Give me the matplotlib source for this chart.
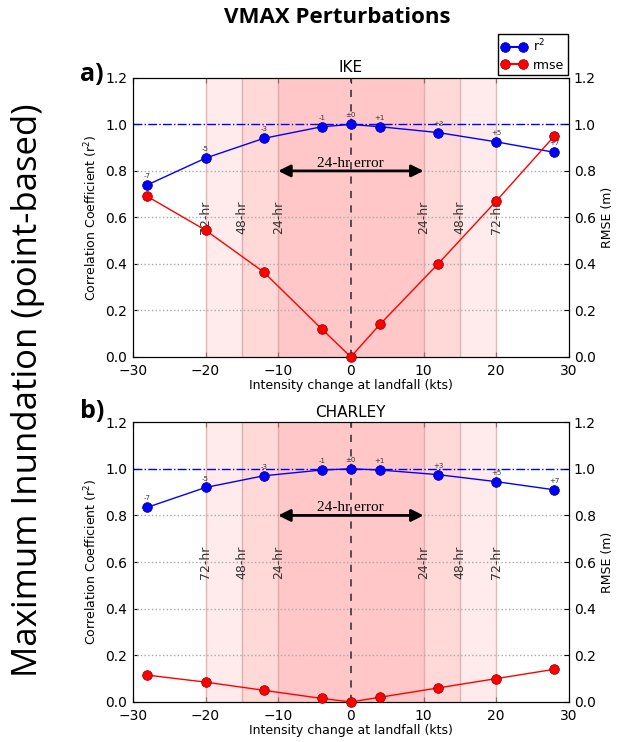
import matplotlib.pyplot as plt
from matplotlib.lines import Line2D

# intensity perturbation (kts) and labels
dv = [-28, -20, -12, -4, 0, 4, 12, 20, 28]
pert_labels = ['-7', '-5', '-3', '-1', '\u00b10', '+1', '+3', '+5', '+7']

ike_r2 = [0.74, 0.855, 0.94, 0.99, 1.0, 0.99, 0.965, 0.925, 0.88]
ike_rmse = [0.69, 0.545, 0.365, 0.12, 0.0, 0.14, 0.40, 0.67, 0.95]

charley_r2 = [0.835, 0.92, 0.97, 0.995, 1.0, 0.995, 0.975, 0.945, 0.91]
charley_rmse = [0.115, 0.085, 0.05, 0.015, 0.0, 0.02, 0.06, 0.10, 0.14]

# forecast error bands (kts)
bands = [20, 15, 10]
band_labels = ['72-hr', '48-hr', '24-hr']

plt.rcParams['xtick.direction'] = 'in'
plt.rcParams['ytick.direction'] = 'in'
plt.rcParams['xtick.top'] = True
plt.rcParams['font.size'] = 10

fig = plt.figure(figsize=(6.21, 7.42), dpi=100)
ax_a = fig.add_axes([0.214, 0.519, 0.702, 0.376])
ax_b = fig.add_axes([0.214, 0.054, 0.702, 0.377])


def panel(ax, name, r2, rmse):
    for b in bands:
        ax.axvspan(-b, b, color='red', alpha=0.08, lw=0)
        ax.axvline(-b, color='#d99a9a', lw=1, alpha=0.7)
        ax.axvline(b, color='#d99a9a', lw=1, alpha=0.7)
    for b, lab in zip(bands, band_labels):
        ax.text(-b, 0.6, lab, rotation=90, ha='center', va='center', fontsize=9, color='#333333')
        ax.text(b, 0.6, lab, rotation=90, ha='center', va='center', fontsize=9, color='#333333')
    for y in [0.2, 0.4, 0.6, 0.8]:
        ax.axhline(y, color='#aaaaaa', ls=':', lw=1)
    ax.axhline(1.0, color='blue', ls='-.', lw=1)
    ax.axvline(0, color='#444444', ls='--', lw=1.3, dashes=(4, 4))
    ax.annotate('', xy=(10, 0.8), xytext=(-10, 0.8),
                arrowprops=dict(arrowstyle='<|-|>', color='black', lw=2, mutation_scale=18,
                                shrinkA=0, shrinkB=0))
    ax.text(0, 0.805, '24-hr error', ha='center', va='bottom', fontsize=11,
            family='Liberation Serif')
    ax.plot(dv, r2, 'o-', color='blue', ms=7, mec='#00008b', mew=0.5, lw=1, zorder=5)
    for x, y, lab in zip(dv, r2, pert_labels):
        ax.annotate(lab, (x, y), xytext=(0, 5), textcoords='offset points',
                    ha='center', fontsize=5, color='#333333')
    ax.set_xlim(-30, 30)
    ax.set_ylim(0, 1.2)
    ax.set_xticks(range(-30, 31, 10))
    ax.set_yticks([0, 0.2, 0.4, 0.6, 0.8, 1.0, 1.2])
    ax.set_yticklabels(['0.0', '0.2', '0.4', '0.6', '0.8', '1.0', '1.2'])
    ax.tick_params(axis='x', pad=5)
    ax.tick_params(axis='y', pad=4)
    ax.set_xlabel('Intensity change at landfall (kts)', fontsize=9, labelpad=1)
    ax.set_ylabel('Correlation Coefficient (r$^2$)', fontsize=9)
    ax.set_title(name, fontsize=11, pad=4)
    ax2 = ax.twinx()
    ax2.plot(dv, rmse, 'o-', color='red', ms=7, mec='#8b0000', mew=0.5, lw=1, zorder=5,
             clip_on=False)
    ax2.set_ylim(0, 1.2)
    ax2.set_yticks([0, 0.2, 0.4, 0.6, 0.8, 1.0, 1.2])
    ax2.set_yticklabels(['0.0', '0.2', '0.4', '0.6', '0.8', '1.0', '1.2'])
    ax2.set_ylabel('RMSE (m)', fontsize=9)
    ax2.tick_params(direction='in')


panel(ax_a, 'IKE', ike_r2, ike_rmse)
panel(ax_b, 'CHARLEY', charley_r2, charley_rmse)

handles = [Line2D([], [], color='blue', marker='o', ms=7, mec='#00008b', mew=0.5),
           Line2D([], [], color='red', marker='o', ms=7, mec='#8b0000', mew=0.5)]
fig.legend(handles, ['r$^2$', 'rmse'], loc='upper right', bbox_to_anchor=(0.924, 0.962),
           numpoints=2, fontsize=9, fancybox=False, edgecolor='black', handlelength=2,
           borderpad=0.3, labelspacing=0.3, handletextpad=0.5, framealpha=1)

fig.text(0.543, 0.976, 'VMAX Perturbations', ha='center', va='center', fontsize=16,
         fontweight='bold', family='Open Sans')
fig.text(0.045, 0.474, 'Maximum Inundation (point-based)', rotation=90, ha='center',
         va='center', fontsize=25, family='Open Sans')
fig.text(0.148, 0.9, 'a)', ha='center', va='center', fontsize=18, fontweight='bold',
         family='Open Sans')
fig.text(0.148, 0.445, 'b)', ha='center', va='center', fontsize=18, fontweight='bold',
         family='Open Sans')

fig.savefig('out.png', dpi=100)
